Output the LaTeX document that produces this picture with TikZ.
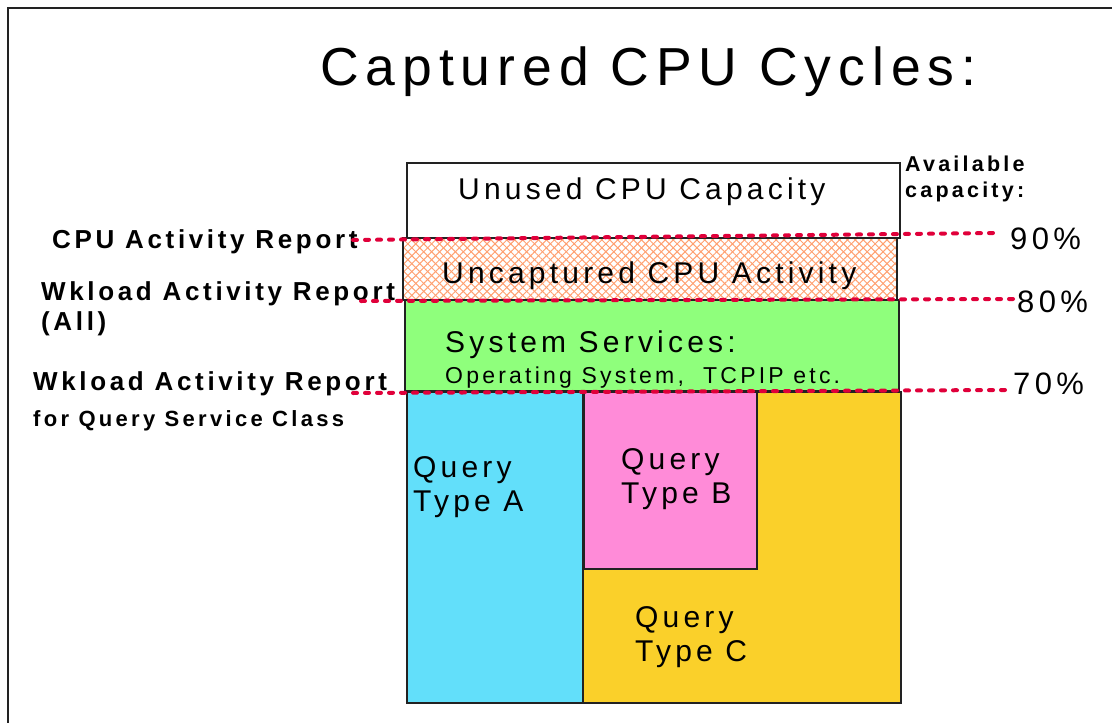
\documentclass[tikz,border=0pt]{standalone}
\usepackage{fontspec}
\usetikzlibrary{patterns.meta}
\newfontfamily\lsans{Liberation Sans}[LetterSpace=14]
\newfontfamily\msans{Liberation Sans}[LetterSpace=15]
\newfontfamily\tsans{Liberation Sans}[LetterSpace=13]
\definecolor{cpured}{HTML}{E0003A}
\definecolor{hatch}{HTML}{FFA070}
\definecolor{qblue}{HTML}{62DFFA}
\definecolor{qpink}{HTML}{FF8BD8}
\definecolor{qyellow}{HTML}{FAD02A}
\definecolor{sgreen}{HTML}{8FFF7C}
\definecolor{edge}{HTML}{222222}
\tikzset{
  txt/.style={inner sep=0pt, anchor=base west, align=left, font=\lsans\fontsize{30}{34}\selectfont},
  small/.style={inner sep=0pt, anchor=base west, font=\lsans\fontsize{23}{26}\selectfont},
  lbl/.style={inner sep=0pt, anchor=base west, align=left, font=\lsans\bfseries\fontsize{26}{30}\selectfont},
  lblsmall/.style={inner sep=0pt, anchor=base west, align=left, font=\msans\bfseries\fontsize{22}{25.5}\selectfont},
  avl/.style={inner sep=0pt, anchor=base west, align=left, font=\msans\bfseries\fontsize{21.5}{25.5}\selectfont},
  pct/.style={inner sep=0pt, anchor=base west, font=\lsans\fontsize{31}{36}\selectfont},
  box/.style={draw=edge, line width=2pt},
  redline/.style={draw=cpured, line width=4pt, line cap=round, dash pattern=on 4pt off 8pt}
}
\begin{document}
\begin{tikzpicture}[x=1pt,y=-1pt]
\useasboundingbox (0,0) rectangle (1112,723);
\fill[white] (0,0) rectangle (1112,723);
% frame
\draw[line width=2pt, edge] (7.5,723) -- (7.5,8) -- (1112,8);
% title
\node[inner sep=0pt, anchor=base west, font=\tsans\fontsize{53.5}{60}\selectfont] (title) at (320,85) {Captured CPU Cycles:};
% boxes
\draw[box, fill=white] (407,163) rectangle (900,238);
\fill[white] (403,238) rectangle (897,300);
\fill[pattern={Lines[angle=45,distance=5.6pt,line width=1pt]}, pattern color=hatch] (403,238) rectangle (897,300);
\fill[pattern={Lines[angle=-45,distance=5.6pt,line width=1pt]}, pattern color=hatch] (403,238) rectangle (897,300);
\draw[box] (403,238) rectangle (897,300);
\draw[box, fill=sgreen] (405,300) rectangle (899,391);
\draw[box, fill=qyellow] (407,392) rectangle (901,703);
\draw[box, fill=qblue] (407,392) rectangle (583,703);
\draw[box, fill=qpink] (584,392) rectangle (757,569);
% box texts
\node[txt] (unused) at (458,199) {Unused CPU Capacity};
\node[txt] (uncap) at (442,283) {Uncaptured CPU Activity};
\node[txt] (sys) at (445,352) {System Services:};
\node[small] (os) at (445,383) {Operating System,\ \ TCPIP etc.};
\node[txt] (qa) at (413,511) {Query\\Type A};
\node[txt] (qb) at (621,503) {Query\\Type B};
\node[txt] (qc) at (635,661) {Query\\Type C};
% left labels
\node[lbl] (cpurep) at (52,248) {CPU Activity Report};
\node[lbl] (wall) at (41,330) {Wkload Activity Report\\(All)};
\node[lbl] (wq) at (33,390) {Wkload Activity Report};
\node[lblsmall] (fq) at (33,426) {for Query Service Class};
% right labels
\node[avl] (avail) at (905,197) {Available\\capacity:};
\node[pct] (p90) at (1010,249) {90\%};
\node[pct] (p80) at (1017,312) {80\%};
\node[pct] (p70) at (1013,394) {70\%};
% dashed connectors
\coordinate (a1) at (353,240); \coordinate (b1) at (995,233);
\coordinate (a2) at (361,301); \coordinate (b2) at (1015,299);
\coordinate (a3) at (353,393); \coordinate (b3) at (1008,390);
\draw[redline] (a1) -- (b1);
\draw[redline] (a2) -- (b2);
\draw[redline] (a3) -- (b3);
\end{tikzpicture}
\end{document}
